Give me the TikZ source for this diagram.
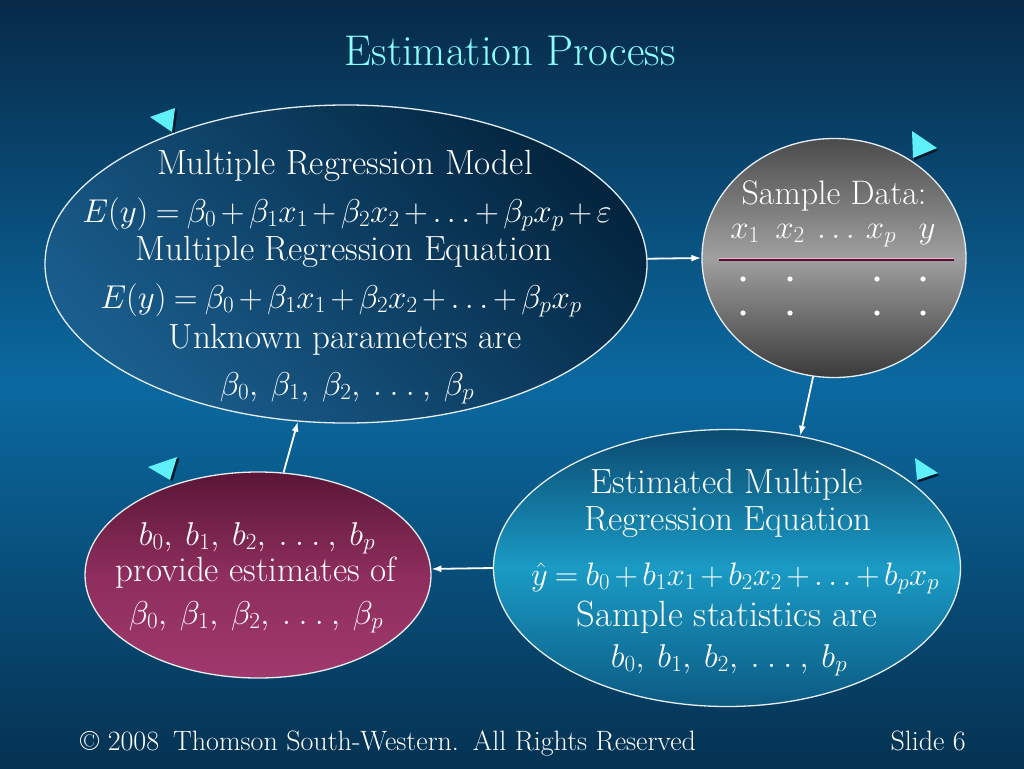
\RequirePackage{fix-cm}
\documentclass[tikz,border=0pt]{standalone}
\usepackage{amsmath}
\usetikzlibrary{shapes.geometric,arrows.meta}
\definecolor{bgtop}{HTML}{072A48}
\definecolor{bgmid}{HTML}{0B69A0}
\definecolor{bgbot}{HTML}{053252}
\definecolor{edgecol}{HTML}{E6EEF4}
\definecolor{eonelight}{HTML}{1A5E8E}
\definecolor{eonedark}{HTML}{03253F}
\definecolor{grayA}{HTML}{4B4B4B}
\definecolor{grayB}{HTML}{A0A0A0}
\definecolor{grayC}{HTML}{3A3A3A}
\definecolor{ethreetop}{HTML}{0B4A70}
\definecolor{ethreemid}{HTML}{1A9BC5}
\definecolor{ethreebot}{HTML}{0C5A82}
\definecolor{efourtop}{HTML}{5A1636}
\definecolor{efourmid}{HTML}{8E2E5E}
\definecolor{efourbot}{HTML}{A0386C}
\definecolor{titlecyan}{HTML}{8CFFFF}
\definecolor{markcyan}{HTML}{60F0FA}
\definecolor{markshadow}{HTML}{071B2C}
\definecolor{maroonline}{HTML}{5A0F2E}
\definecolor{pinkline}{HTML}{E8B8D0}
\medmuskip=2.5mu plus 2mu minus 2mu\relax
\thickmuskip=4mu plus 3mu\relax
\newcommand{\plist}[1]{#1_0,\; #1_1,\; #1_2,\; .\;.\;.\;,\; #1_p}
\begin{document}
\begin{tikzpicture}[x=1pt,y=-1pt,
  ell/.style={ellipse, inner sep=0pt, draw=edgecol, line width=1.3pt},
  txt/.style={text=white, anchor=base, inner sep=0pt, font=\fontsize{35}{40}\selectfont},
  mtxt/.style={text=white, anchor=base, inner sep=0pt, font=\fontsize{33}{38}\selectfont},
  smalltxt/.style={text=white, inner sep=0pt, font=\fontsize{28}{32}\selectfont},
  flow/.style={draw=white, line width=1.8pt, -{Latex[length=10pt,width=7pt]}},
  tri/.style={fill=markcyan},
  trishade/.style={fill=markshadow},
  datadot/.style={fill=white}
]
\useasboundingbox (0,0) rectangle (1024,768);
\shade[top color=bgtop, bottom color=bgbot, middle color=bgmid] (0,0) rectangle (1024,768);

% title
\node[anchor=base, inner sep=0pt, text=titlecyan, font=\fontsize{43}{48}\selectfont] (title) at (510,65) {Estimation Process};

% ellipses
\node[ell, minimum width=602pt, minimum height=318pt, top color=eonelight, bottom color=eonedark, shading angle=135] (e1) at (346,264) {};
\node[ell, minimum width=264pt, minimum height=239pt, top color=grayA, bottom color=grayC, middle color=grayB] (e2) at (834,258) {};
\node[ell, minimum width=467pt, minimum height=277pt, top color=ethreetop, bottom color=ethreebot, middle color=ethreemid] (e3) at (727,568) {};
\node[ell, minimum width=346pt, minimum height=206pt, top color=efourtop, bottom color=efourbot, middle color=efourmid] (e4) at (258,575) {};

% ellipse 1 text
\node[txt] (a1) at (345,174) {Multiple Regression Model};
\node[mtxt] (a2) at (347,222) {$E(y) = \beta_0 + \beta_1x_1 + \beta_2x_2 + .\,.\,. + \beta_px_p + \varepsilon$};
\node[txt] (a3) at (344,260) {Multiple Regression Equation};
\node[mtxt] (a4) at (341,308) {$E(y) = \beta_0 + \beta_1x_1 + \beta_2x_2 + .\,.\,. + \beta_px_p$};
\node[txt] (a5) at (345,348) {Unknown parameters are};
\node[mtxt] (a6) at (347,395) {$\plist{\beta}$};

% ellipse 2 text
\node[txt, font=\fontsize{34}{38}\selectfont] (s1) at (834,204) {Sample Data:};
\node[mtxt] (h1) at (745,238) {$x_1$};
\node[mtxt] (h2) at (790,238) {$x_2$};
\node[mtxt] (h3) at (836,238) {$.\,.\,.$};
\node[mtxt] (h4) at (881,238) {$x_p$};
\node[mtxt] (h5) at (927,238) {$y$};
\draw[maroonline, line width=2.6pt] (719,259.5) -- (954,259.5);
\draw[pinkline, line width=0.7pt] (719,258) -- (954,258);
\foreach \xx in {743,790,877,923}{
  \fill[datadot] (\xx,279) circle (2.6pt);
  \fill[datadot] (\xx,313) circle (2.6pt);
}

% ellipse 3 text
\node[txt] (c1) at (727,493) {Estimated Multiple};
\node[txt] (c2) at (728,530) {Regression Equation};
\node[mtxt, font=\fontsize{32.5}{36}\selectfont] (c3) at (735,585) {$\hat{y} = b_0 + b_1x_1 + b_2x_2 + \ldots + b_px_p$};
\node[txt, font=\fontsize{36.5}{40}\selectfont] (c4) at (727,626) {Sample statistics are};
\node[mtxt] (c5) at (729,667) {$\plist{b}$};

% ellipse 4 text
\node[mtxt] (d1) at (257,545) {$\plist{b}$};
\node[txt] (d2) at (256,581) {provide estimates of};
\node[mtxt] (d3) at (256,624) {$\plist{\beta}$};

% connectors
\draw[flow] (e1.1) -- (e2.west);
\draw[flow] (e2.-100.8) -- (e3.61.8);
\draw[flow] (e3.west) -- (e4.2);
\draw[flow] (e4.76.9) -- (e1.-107.9);

% bullet triangles
\fill[trishade] (152.5,118) -- (177.5,109) -- (174.5,133) -- cycle;
\fill[tri] (150,117) -- (175,108) -- (172,132) -- cycle;
\fill[trishade] (150.5,468) -- (179.5,458) -- (172.5,481) -- cycle;
\fill[tri] (148,467) -- (177,457) -- (170,480) -- cycle;
\fill[trishade] (913,133.5) -- (914,160.5) -- (938,150.5) -- cycle;
\fill[tri] (912,131) -- (913,158) -- (937,148) -- cycle;
\fill[trishade] (916,460.5) -- (918,482.5) -- (939,475.5) -- cycle;
\fill[tri] (915,458) -- (917,480) -- (938,473) -- cycle;

% footer
\node[smalltxt, anchor=base west] (foot) at (80,750) {\copyright{} 2008\enspace Thomson South-Western.\enspace All Rights Reserved};
\node[smalltxt, anchor=base east] (slide) at (966,750) {Slide 6};
\end{tikzpicture}
\end{document}
